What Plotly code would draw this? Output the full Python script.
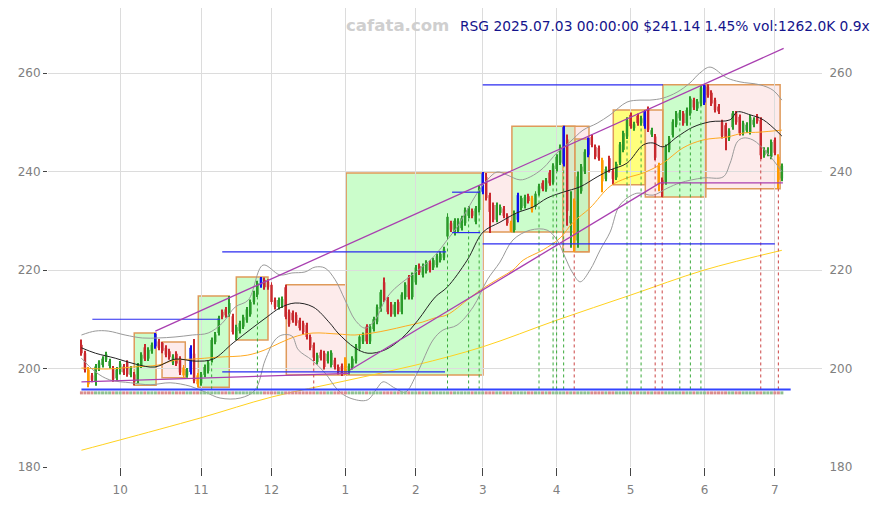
import pandas as pd
import plotly.graph_objects as go

# ---------------- trading calendar ----------------
HOLIDAYS = ["2024-11-28", "2024-12-25", "2025-01-01", "2025-01-09", "2025-01-20",
            "2025-02-17", "2025-04-18", "2025-05-26", "2025-06-19"]
DATES = [d for d in pd.bdate_range("2024-09-16", "2025-07-03")
         if d.strftime("%Y-%m-%d") not in HOLIDAYS]

# ---------------- daily candles ----------------
OPEN = [
    204.8, 203.1, 199.8, 198.6, 197.4, 200.0, 200.7, 201.8, 200.5, 200.0,
    198.0, 199.3, 200.4, 201.2, 198.7, 198.8, 197.5, 200.6, 204.3, 202.0,
    203.5, 204.5, 205.5, 205.2, 204.2, 203.5, 201.2, 203.0, 202.0, 200.2,
    198.6, 199.3, 203.0, 198.6, 197.0, 198.7, 199.5, 201.7, 205.4, 207.2,
    211.5, 212.0, 211.0, 210.6, 206.2, 207.6, 208.5, 209.8, 211.0, 213.5,
    215.0, 216.9, 218.0, 217.6, 217.0, 213.9, 212.5, 212.8, 216.5, 211.5,
    211.3, 210.9, 209.8, 209.2, 208.8, 206.4, 204.8, 201.3, 203.3, 203.1,
    201.5, 200.7, 201.7, 200.3, 200.5, 201.8, 199.3, 200.3, 201.5, 204.0,
    205.5, 208.5, 205.5, 208.0, 209.5, 212.0, 217.5, 214.0, 213.0, 211.0,
    213.5, 211.5, 214.5, 218.5, 214.5, 217.5, 220.8, 219.0, 219.8, 221.5,
    220.5, 221.0, 222.0, 222.5, 226.8, 229.5, 227.5, 228.0, 228.5, 229.5,
    231.0, 232.0, 229.8, 232.2, 235.9, 238.9, 235.2, 233.2, 230.2, 231.6,
    232.5, 231.0, 229.5, 228.1, 230.2, 232.6, 233.0, 235.0, 234.6, 232.8,
    235.6, 237.7, 236.4, 239.8, 237.8, 240.5, 241.8, 241.5, 246.5, 229.5,
    234.0, 226.0, 236.0, 240.0, 243.4, 247.0, 245.0, 244.8, 242.3, 238.5,
    242.7, 240.0, 238.8, 241.8, 244.4, 247.1, 251.5, 248.8, 251.3, 249.8,
    249.2, 252.8, 247.5, 247.1, 241.3, 238.3, 237.8, 244.4, 247.4, 249.5,
    250.8, 251.8, 249.8, 251.8, 254.5, 252.8, 253.8, 254.0, 257.2, 256.0,
    254.5, 253.2, 250.0, 249.4, 246.7, 249.0, 251.8, 251.1, 247.8, 248.3,
    248.0, 249.5, 251.2, 250.5, 243.3, 243.6, 243.0, 246.4, 243.0, 238.6,
]
CLOSE = [
    203.1, 199.7, 196.8, 197.7, 200.4, 201.2, 202.0, 202.9, 201.5, 197.8,
    199.8, 201.0, 199.2, 198.8, 200.0, 197.3, 200.6, 202.8, 202.0, 203.8,
    204.8, 207.0, 204.2, 203.6, 202.8, 202.3, 202.4, 201.0, 199.2, 198.6,
    199.6, 204.2, 197.5, 196.8, 198.8, 200.3, 201.2, 205.8, 206.9, 210.2,
    210.5, 210.8, 213.3, 207.4, 208.4, 209.2, 210.4, 212.0, 213.5, 215.3,
    217.3, 218.4, 216.5, 216.5, 213.5, 212.5, 213.9, 214.1, 210.5, 209.0,
    209.8, 209.2, 208.2, 207.4, 206.4, 204.2, 202.2, 202.7, 202.1, 200.3,
    203.0, 203.2, 200.3, 199.3, 199.0, 199.0, 200.5, 202.0, 204.5, 206.5,
    206.8, 205.5, 208.5, 210.0, 212.5, 215.5, 214.0, 211.5, 211.0, 213.0,
    211.5, 215.0, 217.0, 214.5, 219.0, 220.5, 219.5, 220.8, 221.5, 220.0,
    222.0, 222.8, 223.3, 224.2, 230.8, 228.2, 230.0, 230.0, 230.5, 232.2,
    232.5, 231.0, 232.5, 236.6, 239.6, 234.6, 231.8, 230.2, 233.2, 232.8,
    231.0, 229.5, 227.9, 231.6, 235.2, 234.6, 234.8, 234.0, 232.2, 235.5,
    237.0, 236.5, 238.2, 237.6, 241.2, 243.0, 245.0, 249.0, 232.0, 231.0,
    226.0, 239.0, 241.0, 244.0, 246.8, 245.4, 243.0, 242.7, 238.0, 240.5,
    240.3, 238.5, 241.5, 245.5, 247.8, 250.5, 249.2, 249.6, 249.8, 250.8,
    252.2, 248.5, 248.4, 242.8, 237.4, 237.3, 245.0, 246.7, 250.1, 251.8,
    252.0, 249.8, 252.5, 254.8, 253.0, 254.2, 257.0, 257.5, 255.5, 253.8,
    252.5, 252.2, 247.2, 246.8, 248.3, 251.8, 250.0, 247.8, 249.8, 249.5,
    251.0, 250.5, 250.2, 243.3, 244.4, 244.4, 246.0, 243.8, 238.3, 241.14,
]
# wick ends that stand out from the body (index -> price)
HIGH_READ = {0: 205.9, 18: 205.0, 21: 207.2, 23: 205.4, 32: 206.0, 42: 214.7, 51: 218.6,
             58: 217.0, 86: 218.5, 104: 231.5, 114: 239.9, 115: 239.7, 137: 249.3,
             138: 247.5, 139: 236.0, 141: 240.0, 144: 246.9, 160: 252.5, 161: 253.2,
             176: 257.4, 177: 257.7}
LOW_READ = {2: 196.2, 4: 196.5, 15: 196.6, 29: 198.1, 33: 196.2, 44: 205.8, 66: 201.5,
            75: 198.7, 116: 227.5, 122: 227.7, 138: 229.0, 139: 224.5, 140: 223.7,
            141: 224.5, 148: 235.8, 151: 237.3, 164: 236.0, 165: 234.8, 183: 244.3,
            193: 242.5, 198: 236.5, 199: 238.0}
WICK = 0.5
BLUE_CANDLES = [21, 31, 51, 114, 124, 137, 144, 160, 177]
ORANGE_CANDLES = [2, 29, 33, 75, 122, 128, 140, 148, 164, 198]

# ---------------- swing boxes ----------------
BOX_START = [15.0, 22.9, 33.2, 44.0, 58.2, 75.2, 114.1, 122.3, 136.8, 140.2, 151.1, 160.2, 165.2, 177.4]
BOX_END = [21.2, 29.5, 42.0, 53.0, 75.2, 114.1, 122.3, 140.2, 144.2, 144.2, 160.2, 165.2, 177.4, 198.5]
BOX_LOW = [196.6, 198.1, 196.2, 205.8, 198.7, 198.7, 227.7, 227.7, 223.7, 223.7, 237.3, 234.8, 234.8, 236.5]
BOX_HIGH = [207.2, 205.4, 214.7, 218.6, 217.0, 239.7, 239.9, 249.2, 249.2, 246.6, 252.5, 252.5, 257.6, 257.6]
BOX_KIND = ["up", "down", "up", "up", "down", "up", "down", "up", "down", "up", "open", "down", "up", "down"]

# ---------------- level lines ----------------
LEVEL_START = [3.1, 40.0, 40.0, 105.3, 105.3, 114.0, 114.0]
LEVEL_END = [39.4, 103.6, 103.3, 113.3, 113.3, 197.0, 165.2]
LEVEL_PRICE = [210.0, 223.7, 199.3, 235.8, 227.6, 225.3, 257.6]

# trend lines (start idx, start price, end idx, end price)
TREND_X0 = [0.0, 76.3, 21.0, 164.4]
TREND_Y0 = [197.3, 199.7, 207.6, 237.7]
TREND_X1 = [76.3, 164.4, 199.5, 199.3]
TREND_Y1 = [199.0, 237.7, 265.0, 237.7]

GREEN_SIGNALS = [37, 50, 104, 110, 113, 130, 134, 135, 137, 155, 159, 170, 173, 176]
RED_SIGNALS = [66, 140, 163, 165, 193, 198]
BASELINE = 195.75

# ---------------- indicators ----------------
MA20_X = [0, 4, 9.6, 15.3, 20.9, 26.6, 32.3, 37.4, 43.1, 48.5, 52.8, 56.4, 60.7, 65.8, 70.6,
          72.9, 77.7, 81.4, 86.3, 91.1, 95.6, 100.5, 103.9, 109.6, 114.1, 118.9, 123.7, 128.3,
          132.3, 136.8, 141.7, 146.5, 150.2, 155.0, 159.6, 162.4, 165.2, 169.2, 173.7, 178.6,
          184.3, 186.3, 190.0, 193.7, 199]
MA20_Y = [204.2, 203.1, 202.1, 200.9, 200.3, 201.9, 201.5, 201.9, 205.2, 208.2, 210.5, 212.3,
          213.3, 212.5, 209.2, 207.2, 204.2, 203.1, 203.8, 206.2, 209.8, 214.5, 216.5, 222.0,
          227.7, 229.7, 231.6, 232.8, 234.6, 235.8, 236.9, 238.9, 240.3, 241.7, 245.4, 245.8,
          245.0, 247.0, 249.0, 250.1, 250.5, 252.1, 251.5, 250.5, 247.2]
UPPER_X = [0, 3.9, 7.6, 12.4, 17.3, 21.8, 26.6, 31.5, 36, 40, 43.7, 47.4, 51.6, 56.4, 59.8,
           63.5, 66.4, 69.2, 72.1, 74.9, 77.8, 80.6, 83.4, 86.3, 89.1, 92.8, 96.8, 100.5, 103.9,
           106.7, 109.6, 112.4, 115.3, 118.1, 120.9, 124.6, 127.5, 131.2, 135.1, 138.8, 142.5,
           146.5, 150.2, 155, 158.7, 161.5, 165.2, 169.2, 172.9, 175.7, 178.6, 183.4, 187.1,
           192.8, 196.5, 199]
UPPER_Y = [206.8, 207.6, 207.6, 206.8, 206.2, 206.2, 206.4, 206.8, 207.2, 209.2, 212.5, 213.9,
           221.0, 219.0, 219.4, 219.6, 220.6, 220.4, 218.0, 213.9, 209.8, 208.2, 209.8, 213.9,
           216.3, 218.4, 220.6, 223.0, 226.1, 228.7, 232.2, 235.6, 238.3, 239.9, 239.3, 238.3,
           238.9, 240.7, 243.8, 246.0, 248.4, 249.8, 251.5, 254.1, 254.5, 254.5, 254.9, 256.1,
           258.0, 260.0, 261.2, 259.0, 258.2, 257.6, 256.5, 254.5]
LOWER_X = [0, 4, 8, 14, 19.5, 25.2, 30.9, 35.2, 39.4, 45.1, 49.3, 52.2, 55, 57, 59.8, 61.6,
           65.5, 69.2, 72.9, 76.3, 81.2, 84, 85.7, 89.1, 92, 95.4, 99.9, 102.7, 106.7, 111.3,
           115.3, 118.9, 122.6, 127.5, 132.3, 135.1, 137.4, 139.4, 141.7, 144.5, 147.4, 150.2,
           153, 157.8, 162.4, 166.4, 170.1, 176.6, 182.3, 184.3, 186.3, 188, 190.8, 194.8, 199]
LOWER_Y = [202.1, 199.3, 197.7, 197.1, 196.7, 197.1, 196.4, 195.2, 194.0, 194.0, 195.6, 201.7,
           205.8, 206.8, 206.6, 203.8, 201.7, 199.1, 195.6, 194.0, 193.6, 196.0, 197.3, 196.0,
           195.2, 199.1, 205.8, 207.8, 208.8, 212.5, 218.0, 221.6, 226.1, 228.1, 228.1, 226.1,
           222.6, 219.6, 217.6, 220.0, 224.1, 227.7, 233.2, 235.6, 235.2, 236.6, 237.7, 238.7,
           238.9, 241.7, 246.0, 246.8, 246.4, 243.8, 240.0]
MA60_X = [0, 7.6, 14.4, 21.8, 26.6, 31.5, 38.8, 47.1, 52.2, 56.4, 61.3, 65.8, 72.9, 77.7, 82.6,
          87.1, 92, 96.8, 100.5, 103.9, 109.6, 113.3, 118.9, 122.6, 125.5, 131.2, 136, 139.7,
          144.5, 150.2, 155, 159.6, 165.2, 170.9, 176.6, 183.4, 188, 192.8, 199]
MA60_Y = [200.1, 199.9, 200.3, 200.7, 201.7, 201.9, 202.3, 202.7, 203.8, 205.2, 206.6, 207.2,
          207.0, 206.8, 207.2, 207.8, 208.6, 209.4, 210.3, 210.9, 213.9, 215.9, 218.4, 220.0,
          222.0, 224.1, 226.5, 229.7, 232.6, 237.0, 238.7, 239.7, 241.7, 244.8, 246.4, 247.0,
          247.8, 248.0, 248.4]
MA200_X = [0, 11, 34, 54, 75, 95, 114, 135, 156, 177, 199]
MA200_Y = [183.4, 185.5, 190.0, 194.2, 197.5, 200.7, 204.4, 209.8, 214.9, 220.0, 224.0]

TITLE = "RSG 2025.07.03 00:00:00 $241.14 1.45% vol:1262.0K 0.9x"
WATERMARK = "cafata.com"

# ---------------- build ----------------
N = len(DATES)
X = list(range(N))
HIGH = [HIGH_READ.get(i, max(OPEN[i], CLOSE[i]) + WICK) for i in X]
LOW = [LOW_READ.get(i, min(OPEN[i], CLOSE[i]) - WICK) for i in X]

GREEN, RED, BLUE, ORANGE = "#2a9a2a", "#c8282d", "#1010ee", "#ff9a00"
colors = []
for i in X:
    if i in BLUE_CANDLES:
        colors.append(BLUE)
    elif i in ORANGE_CANDLES:
        colors.append(ORANGE)
    else:
        colors.append(GREEN if CLOSE[i] >= OPEN[i] else RED)

tick_idx = [i for i in range(1, N) if DATES[i].month != DATES[i - 1].month]
tick_txt = [str(DATES[i].month) for i in tick_idx]

fig = go.Figure()

fill = {"up": "rgba(140,250,140,0.45)", "down": "rgba(250,195,195,0.33)", "open": "rgba(255,255,80,0.75)"}
for s, e, lo, hi, k in zip(BOX_START, BOX_END, BOX_LOW, BOX_HIGH, BOX_KIND):
    fig.add_shape(type="rect", xref="x", yref="y", x0=s, x1=e, y0=lo, y1=hi,
                  fillcolor=fill[k], line=dict(color="#df9a5a", width=1.5), layer="below")


def seg_trace(xs0, xs1, ys0, ys1, color, width, dash="solid"):
    xx, yy = [], []
    for a, b, c, d in zip(xs0, xs1, ys0, ys1):
        xx += [a, b, None]
        yy += [c, d, None]
    return go.Scatter(x=xx, y=yy, mode="lines", line=dict(color=color, width=width, dash=dash),
                      hoverinfo="skip", showlegend=False)


# indicators
fig.add_trace(go.Scatter(x=MA200_X, y=MA200_Y, mode="lines", line=dict(color="#ffd21f", width=1, shape="spline"), hoverinfo="skip", showlegend=False))
fig.add_trace(go.Scatter(x=MA60_X, y=MA60_Y, mode="lines", line=dict(color="#ffaa22", width=1, shape="spline"), hoverinfo="skip", showlegend=False))
fig.add_trace(go.Scatter(x=UPPER_X, y=UPPER_Y, mode="lines", line=dict(color="#9a9a9a", width=1, shape="spline"), hoverinfo="skip", showlegend=False))
fig.add_trace(go.Scatter(x=LOWER_X, y=LOWER_Y, mode="lines", line=dict(color="#9a9a9a", width=1, shape="spline"), hoverinfo="skip", showlegend=False))
fig.add_trace(go.Scatter(x=MA20_X, y=MA20_Y, mode="lines", line=dict(color="#222222", width=1, shape="spline"), hoverinfo="skip", showlegend=False))

# signal dotted lines
fig.add_trace(seg_trace(GREEN_SIGNALS, GREEN_SIGNALS, [BASELINE] * len(GREEN_SIGNALS),
                        [LOW[i] for i in GREEN_SIGNALS], "#3aaa3a", 1, "dot"))
fig.add_trace(seg_trace(RED_SIGNALS, RED_SIGNALS, [BASELINE] * len(RED_SIGNALS),
                        [LOW[i] for i in RED_SIGNALS], "#cc4444", 1, "dot"))

# level lines
fig.add_trace(seg_trace(LEVEL_START, LEVEL_END, LEVEL_PRICE, LEVEL_PRICE, "#2a2af0", 1.2))
# trend lines
fig.add_trace(seg_trace(TREND_X0, TREND_X1, TREND_Y0, TREND_Y1, "#a93fb0", 1.3))

# candles: wicks then bodies
fig.add_trace(go.Bar(x=X, base=LOW, y=[h - l for h, l in zip(HIGH, LOW)], width=0.28,
                     marker=dict(color=colors, line=dict(width=0)), hoverinfo="skip", showlegend=False))
fig.add_trace(go.Bar(x=X, base=[min(o, c) for o, c in zip(OPEN, CLOSE)],
                     y=[max(abs(c - o), 0.2) for o, c in zip(OPEN, CLOSE)], width=0.7,
                     marker=dict(color=colors, line=dict(width=0)), hoverinfo="skip", showlegend=False))

# baseline strip
strip_col = ["#d98c8c" if CLOSE[i] < OPEN[i] else "#8fbf8f" for i in X]
fig.add_trace(go.Scatter(x=X, y=[BASELINE - 0.7] * N, mode="markers",
                         marker=dict(symbol="square", size=3, color=strip_col, line=dict(width=0)),
                         hoverinfo="skip", showlegend=False))
fig.add_trace(go.Scatter(x=[0, N + 1.5], y=[BASELINE, BASELINE], mode="lines",
                         line=dict(color="#3344ff", width=2), hoverinfo="skip", showlegend=False))
# dummy for right axis
fig.add_trace(go.Scatter(x=[0], y=[200], yaxis="y2", mode="markers", marker=dict(opacity=0),
                         hoverinfo="skip", showlegend=False))

axis_font = dict(family="DejaVu Sans", size=12, color="#808080")
yr = [180, 273.2]
# the page body has an 8px margin, so the margins below are shifted by 8px
fig.update_layout(
    width=882, height=505,
    margin=dict(l=40, r=68, t=0, b=46, autoexpand=False),
    paper_bgcolor="white", plot_bgcolor="white",
    barmode="overlay", showlegend=False,
    font=dict(family="DejaVu Sans"),
    xaxis=dict(range=[-9.5, 210.4], tickmode="array", tickvals=tick_idx, ticktext=tick_txt,
               showgrid=True, gridcolor="#dcdcdc", gridwidth=1, zeroline=False, showline=False,
               ticks="outside", ticklen=8, tickcolor="#444", tickfont=axis_font, automargin=False,
               ticklabelstandoff=4),
    yaxis=dict(range=yr, tickmode="array", tickvals=[180, 200, 220, 240, 260],
               showgrid=True, gridcolor="#dcdcdc", gridwidth=1, zeroline=False, showline=False,
               ticks="outside", ticklen=4, tickcolor="#444", tickfont=axis_font, side="left",
               automargin=False),
    yaxis2=dict(range=yr, overlaying="y", side="right", tickmode="array",
                tickvals=[180, 200, 220, 240, 260], showgrid=False, zeroline=False,
                showline=False, tickfont=axis_font, automargin=False,
                ticks="outside", ticklen=4, tickcolor="rgba(0,0,0,0)"),
    annotations=[
        dict(text=TITLE, xref="paper", yref="paper", x=1.0646, y=0.961, xanchor="right",
             yanchor="middle", showarrow=False,
             font=dict(family="DejaVu Sans", size=13.8, color="#14148c")),
        dict(text="<b>" + WATERMARK + "</b>", xref="paper", yref="paper", x=0.451, y=0.961,
             xanchor="center", yanchor="middle", showarrow=False,
             font=dict(family="DejaVu Sans", size=16.6, color="#cfcfcf")),
    ],
)

fig.write_html("out.html")
